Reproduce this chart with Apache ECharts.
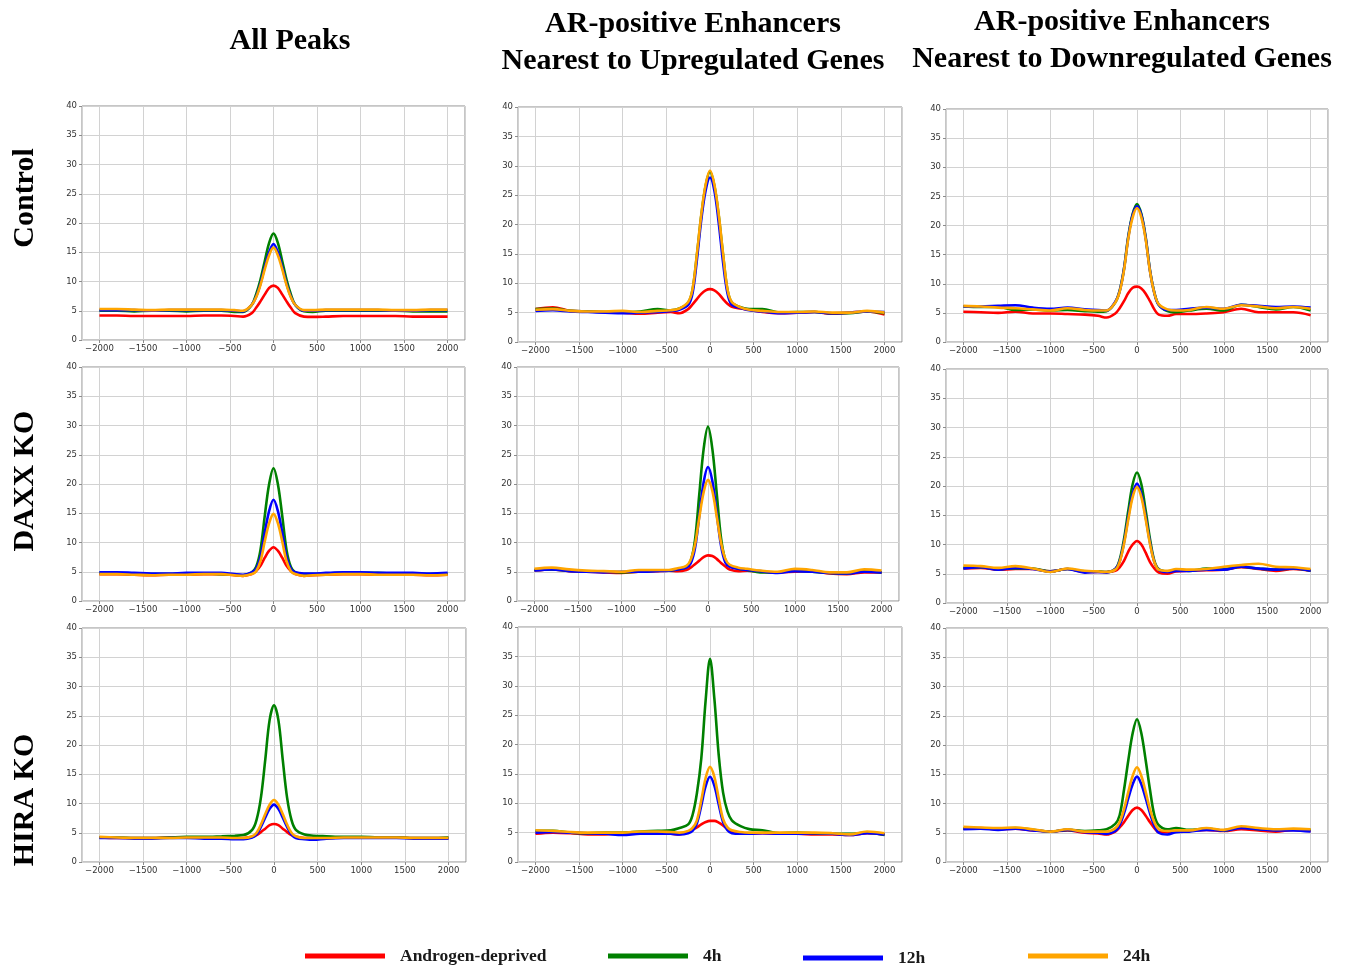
<!DOCTYPE html>
<html>
<head>
<meta charset="utf-8">
<title>AR enhancer signal profiles</title>
<script src="https://cdn.jsdelivr.net/npm/echarts@6.0.0/dist/echarts.min.js"></script>
<style>
  html, body { margin: 0; padding: 0; background: #fff; }
  #main { width: 1347px; height: 965px; }
</style>
</head>
<body>
<div id="main"></div>
<script>
// distance from peak centre (bp), shared by every panel
const positions = [-2000, -1800, -1600, -1400, -1200, -1000, -800, -600, -450, -350, -250, -200, -150, -100, -50, 0,
  50, 100, 150, 200, 250, 350, 450, 600, 800, 1000, 1200, 1400, 1600, 1800, 2000];

const seriesNames = ['Androgen-deprived', '4h', '12h', '24h'];
const seriesColors = ['#ff0000', '#008000', '#0000ff', '#ffa500'];
const columnTitles = ['All Peaks', 'AR-positive Enhancers\nNearest to Upregulated Genes', 'AR-positive Enhancers\nNearest to Downregulated Genes'];
const rowTitles = ['Control', 'DAXX KO', 'HIRA KO'];

// Control - all peaks
const ctrlAll_red = [4.2, 4.2, 4.1, 4.1, 4.1, 4.1, 4.2, 4.2, 4.1, 4.0, 4.6, 5.5, 6.6, 7.8, 8.9, 9.3, 8.9, 7.8, 6.6, 5.5, 4.6, 4.0, 3.95, 4.0, 4.1, 4.1, 4.1, 4.1, 4.0, 4.0, 4.0];
const ctrlAll_4h = [5.0, 5.0, 4.9, 5.0, 5.0, 4.9, 5.0, 5.0, 4.8, 4.8, 6.0, 7.8, 10.3, 13.5, 16.6, 18.2, 16.6, 13.5, 10.3, 7.8, 6.0, 4.9, 4.8, 5.0, 5.0, 5.0, 5.0, 5.0, 4.9, 4.9, 4.9];
const ctrlAll_12h = [5.1, 5.1, 5.1, 5.0, 5.1, 5.1, 5.1, 5.1, 5.0, 4.9, 6.0, 7.4, 9.6, 12.5, 15.0, 16.4, 15.0, 12.5, 9.6, 7.4, 6.0, 5.0, 5.0, 5.1, 5.1, 5.1, 5.1, 5.0, 5.0, 5.1, 5.1];
const ctrlAll_24h = [5.3, 5.3, 5.2, 5.1, 5.2, 5.2, 5.2, 5.2, 5.1, 5.0, 6.0, 7.3, 9.4, 12.1, 14.5, 15.8, 14.5, 12.1, 9.4, 7.3, 6.0, 5.1, 5.1, 5.2, 5.2, 5.2, 5.2, 5.1, 5.1, 5.2, 5.2];

// Control - enhancers near upregulated genes
const ctrlUp_red = [5.6, 5.9, 5.3, 5.2, 5.1, 5.0, 4.8, 5.0, 5.1, 4.9, 5.6, 6.4, 7.3, 8.2, 8.8, 9.0, 8.8, 8.2, 7.3, 6.5, 6.0, 5.7, 5.5, 5.1, 4.9, 5.0, 5.1, 4.8, 5.0, 5.2, 4.7];
const ctrlUp_4h = [5.6, 5.7, 5.3, 5.2, 5.1, 5.1, 5.2, 5.6, 5.4, 5.7, 6.7, 8.9, 14.8, 21.5, 26.6, 29.0, 26.6, 21.5, 14.8, 8.9, 6.7, 5.9, 5.6, 5.6, 5.0, 5.1, 5.1, 4.9, 4.9, 5.2, 4.9];
const ctrlUp_12h = [5.3, 5.4, 5.2, 5.1, 5.0, 4.9, 5.0, 5.1, 5.3, 5.5, 6.3, 8.3, 14.0, 20.8, 25.8, 28.0, 25.8, 20.3, 13.5, 8.3, 6.3, 5.8, 5.4, 5.2, 4.9, 5.0, 5.1, 4.9, 5.0, 5.2, 5.1];
const ctrlUp_24h = [5.5, 5.6, 5.3, 5.2, 5.2, 5.3, 5.1, 5.3, 5.4, 5.7, 6.8, 9.0, 15.0, 21.7, 26.8, 29.2, 26.8, 21.7, 15.0, 9.0, 6.8, 5.9, 5.5, 5.3, 5.1, 5.1, 5.2, 5.0, 5.0, 5.3, 5.0];

// Control - enhancers near downregulated genes
const ctrlDown_red = [5.2, 5.1, 5.0, 5.2, 4.9, 4.9, 4.8, 4.7, 4.5, 4.2, 4.9, 5.8, 7.0, 8.4, 9.3, 9.5, 9.2, 8.3, 7.0, 5.6, 4.7, 4.5, 4.8, 4.8, 4.9, 5.1, 5.7, 5.1, 5.1, 5.1, 4.6];
const ctrlDown_4h = [6.1, 6.0, 6.0, 5.5, 5.6, 5.4, 5.5, 5.3, 5.2, 5.3, 6.8, 8.8, 12.6, 18.2, 22.0, 23.7, 22.0, 18.0, 12.3, 8.5, 6.4, 5.3, 5.1, 5.4, 5.7, 5.4, 6.4, 6.0, 5.6, 6.0, 5.4];
const ctrlDown_12h = [6.1, 6.1, 6.2, 6.3, 5.9, 5.7, 5.9, 5.6, 5.5, 5.4, 6.9, 8.7, 12.5, 18.0, 21.8, 23.3, 21.8, 17.8, 12.2, 8.4, 6.4, 5.5, 5.5, 5.7, 5.9, 5.7, 6.4, 6.2, 6.0, 6.1, 5.9];
const ctrlDown_24h = [6.2, 6.1, 5.9, 5.8, 5.6, 5.4, 5.8, 5.5, 5.4, 5.4, 6.8, 8.6, 12.3, 17.8, 21.4, 23.0, 21.4, 17.6, 12.1, 8.4, 6.5, 5.6, 5.4, 5.5, 6.0, 5.7, 6.3, 6.1, 5.8, 6.0, 5.7];

// DAXX KO - all peaks
const daxxAll_red = [4.6, 4.6, 4.5, 4.4, 4.5, 4.5, 4.6, 4.6, 4.4, 4.3, 4.6, 5.1, 6.0, 7.4, 8.6, 9.2, 8.6, 7.4, 6.0, 5.1, 4.6, 4.3, 4.4, 4.5, 4.6, 4.6, 4.5, 4.5, 4.5, 4.4, 4.5];
const daxxAll_4h = [4.8, 4.7, 4.6, 4.6, 4.6, 4.7, 4.7, 4.6, 4.5, 4.4, 4.9, 5.8, 8.7, 14.6, 20.0, 22.7, 20.0, 14.6, 8.7, 5.8, 4.9, 4.6, 4.6, 4.7, 4.8, 4.8, 4.8, 4.7, 4.7, 4.6, 4.7];
const daxxAll_12h = [4.9, 4.9, 4.8, 4.7, 4.7, 4.8, 4.8, 4.8, 4.6, 4.5, 4.9, 5.5, 7.5, 11.7, 15.4, 17.3, 15.4, 11.7, 7.5, 5.5, 4.9, 4.7, 4.7, 4.8, 4.9, 4.9, 4.8, 4.8, 4.8, 4.7, 4.8];
const daxxAll_24h = [4.6, 4.6, 4.5, 4.4, 4.5, 4.5, 4.6, 4.6, 4.4, 4.3, 4.6, 5.1, 6.8, 10.2, 13.3, 14.9, 13.3, 10.2, 6.8, 5.1, 4.6, 4.3, 4.4, 4.5, 4.6, 4.6, 4.5, 4.5, 4.5, 4.4, 4.5];

// DAXX KO - enhancers near upregulated genes
const daxxUp_red = [5.2, 5.4, 5.1, 5.0, 4.9, 4.8, 5.0, 5.1, 5.2, 5.1, 5.3, 5.7, 6.3, 6.9, 7.5, 7.8, 7.7, 7.2, 6.5, 5.9, 5.4, 5.1, 5.2, 5.0, 4.9, 5.0, 5.1, 4.7, 4.6, 4.9, 4.9];
const daxxUp_4h = [5.3, 5.4, 5.2, 5.0, 5.0, 4.9, 5.0, 5.2, 5.2, 5.4, 5.8, 6.8, 10.4, 18.3, 26.0, 29.8, 26.0, 18.5, 10.8, 7.0, 6.0, 5.5, 5.3, 4.9, 4.9, 5.2, 5.0, 4.8, 4.7, 5.1, 4.9];
const daxxUp_12h = [5.2, 5.4, 5.1, 5.0, 4.9, 5.0, 5.0, 5.1, 5.2, 5.4, 5.7, 6.4, 9.0, 14.6, 20.3, 22.9, 20.5, 15.0, 9.5, 6.6, 5.9, 5.5, 5.3, 5.1, 4.8, 5.1, 5.0, 4.8, 4.7, 5.0, 4.9];
const daxxUp_24h = [5.5, 5.7, 5.4, 5.2, 5.1, 5.0, 5.3, 5.3, 5.3, 5.6, 6.0, 7.0, 9.6, 14.3, 18.6, 20.7, 18.8, 14.5, 10.0, 7.2, 6.2, 5.7, 5.5, 5.2, 5.0, 5.5, 5.3, 4.9, 4.9, 5.4, 5.2];

// DAXX KO - enhancers near downregulated genes
const daxxDown_red = [5.9, 6.0, 5.7, 5.8, 5.8, 5.4, 5.8, 5.3, 5.3, 5.3, 5.5, 6.1, 7.2, 8.8, 10.0, 10.6, 10.0, 8.6, 7.0, 5.9, 5.2, 5.0, 5.4, 5.5, 5.6, 5.7, 6.1, 5.8, 5.5, 5.8, 5.5];
const daxxDown_4h = [6.0, 6.1, 5.8, 5.9, 5.9, 5.4, 5.8, 5.4, 5.4, 5.3, 5.8, 7.4, 10.9, 15.8, 20.3, 22.3, 20.3, 15.8, 10.9, 7.2, 5.8, 5.4, 5.6, 5.5, 5.9, 5.8, 6.2, 5.9, 5.7, 5.9, 5.5];
const daxxDown_12h = [5.9, 6.1, 5.7, 6.0, 5.8, 5.4, 5.8, 5.2, 5.3, 5.2, 5.8, 7.1, 10.3, 14.7, 18.6, 20.4, 18.6, 14.7, 10.3, 7.0, 5.7, 5.3, 5.5, 5.5, 5.7, 5.7, 6.2, 5.9, 5.7, 5.9, 5.5];
const daxxDown_24h = [6.4, 6.3, 6.0, 6.3, 5.9, 5.3, 5.9, 5.5, 5.4, 5.3, 5.7, 7.0, 10.1, 14.3, 18.1, 19.8, 18.1, 14.3, 10.1, 7.0, 5.7, 5.5, 5.8, 5.7, 5.8, 6.2, 6.5, 6.7, 6.2, 6.1, 5.8];

// HIRA KO - all peaks
const hiraAll_red = [4.2, 4.1, 4.1, 4.1, 4.2, 4.2, 4.2, 4.1, 4.1, 4.1, 4.3, 4.6, 5.1, 5.7, 6.3, 6.5, 6.3, 5.7, 5.1, 4.6, 4.3, 4.1, 4.1, 4.1, 4.2, 4.2, 4.2, 4.2, 4.1, 4.1, 4.1];
const hiraAll_4h = [4.2, 4.2, 4.1, 4.1, 4.2, 4.3, 4.3, 4.4, 4.5, 4.6, 5.5, 7.2, 11.0, 17.5, 24.3, 26.8, 24.3, 17.5, 11.0, 7.2, 5.5, 4.7, 4.5, 4.4, 4.3, 4.3, 4.2, 4.2, 4.1, 4.1, 4.2];
const hiraAll_12h = [4.1, 4.1, 4.0, 4.0, 4.1, 4.1, 4.0, 4.0, 3.9, 3.9, 4.2, 4.7, 6.0, 7.6, 9.1, 9.8, 9.1, 7.6, 6.0, 4.7, 4.1, 3.9, 3.8, 4.0, 4.1, 4.1, 4.1, 4.1, 4.0, 4.0, 4.0];
const hiraAll_24h = [4.3, 4.2, 4.1, 4.1, 4.1, 4.2, 4.2, 4.2, 4.1, 4.1, 4.4, 5.0, 6.4, 8.2, 9.8, 10.6, 9.8, 8.2, 6.4, 5.0, 4.4, 4.1, 4.1, 4.1, 4.2, 4.2, 4.2, 4.2, 4.1, 4.1, 4.1];

// HIRA KO - enhancers near upregulated genes
const hiraUp_red = [4.8, 5.0, 4.9, 4.7, 4.7, 4.9, 4.8, 4.8, 4.8, 4.7, 5.1, 5.5, 5.9, 6.4, 6.8, 7.0, 7.0, 6.7, 6.2, 5.6, 5.1, 4.9, 4.8, 4.9, 4.8, 4.8, 4.7, 4.7, 4.6, 4.9, 4.7];
const hiraUp_4h = [5.3, 5.3, 5.0, 4.9, 5.0, 5.0, 5.2, 5.3, 5.4, 5.8, 6.4, 8.0, 11.7, 17.6, 27.5, 34.6, 27.8, 18.2, 11.8, 8.6, 7.1, 6.1, 5.6, 5.4, 4.9, 5.0, 4.9, 4.8, 4.8, 5.0, 4.6];
const hiraUp_12h = [5.0, 5.1, 5.0, 4.9, 4.8, 4.6, 4.8, 4.8, 4.8, 4.7, 4.9, 5.3, 6.6, 9.6, 12.9, 14.5, 13.0, 9.8, 6.8, 5.4, 4.9, 4.8, 4.8, 4.9, 4.8, 4.8, 4.9, 4.8, 4.6, 4.9, 4.7];
const hiraUp_24h = [5.4, 5.3, 5.1, 5.0, 5.0, 5.0, 5.2, 5.2, 5.1, 5.0, 5.3, 5.8, 7.1, 10.5, 14.3, 16.2, 14.5, 10.8, 7.3, 5.9, 5.4, 5.1, 5.0, 5.0, 5.0, 5.0, 5.0, 4.9, 4.7, 5.2, 4.9];

// HIRA KO - enhancers near downregulated genes
const hiraDown_red = [5.7, 5.8, 5.6, 5.7, 5.4, 5.2, 5.4, 5.0, 4.9, 4.7, 5.2, 5.9, 6.8, 7.9, 8.9, 9.3, 8.9, 7.9, 6.8, 5.8, 5.1, 5.1, 5.2, 5.3, 5.5, 5.3, 5.6, 5.4, 5.2, 5.5, 5.3];
const hiraDown_4h = [5.7, 5.7, 5.7, 5.8, 5.5, 5.2, 5.5, 5.3, 5.4, 5.6, 6.5, 8.0, 12.3, 17.4, 22.0, 24.4, 22.0, 17.4, 12.3, 8.0, 6.3, 5.6, 5.8, 5.5, 5.7, 5.4, 5.9, 5.6, 5.5, 5.6, 5.5];
const hiraDown_12h = [5.6, 5.7, 5.5, 5.7, 5.4, 5.2, 5.5, 5.1, 5.0, 4.8, 5.3, 6.3, 8.3, 10.9, 13.3, 14.6, 13.3, 10.9, 8.3, 6.2, 5.0, 4.7, 5.1, 5.2, 5.5, 5.4, 5.8, 5.6, 5.4, 5.4, 5.2];
const hiraDown_24h = [6.0, 5.9, 5.8, 5.9, 5.6, 5.2, 5.6, 5.2, 5.2, 5.2, 5.8, 6.8, 9.0, 12.0, 14.7, 16.2, 14.7, 12.0, 9.0, 6.8, 5.6, 5.3, 5.4, 5.4, 5.8, 5.5, 6.1, 5.8, 5.6, 5.7, 5.6];

// panel boxes in pixels, row by row
const panels = [
  { left: 82, top: 106, width: 383, height: 234, lines: [ctrlAll_red, ctrlAll_4h, ctrlAll_12h, ctrlAll_24h] },
  { left: 518, top: 107, width: 384, height: 235, lines: [ctrlUp_red, ctrlUp_4h, ctrlUp_12h, ctrlUp_24h] },
  { left: 946, top: 109, width: 382, height: 233, lines: [ctrlDown_red, ctrlDown_4h, ctrlDown_12h, ctrlDown_24h] },
  { left: 82, top: 367, width: 383, height: 234, lines: [daxxAll_red, daxxAll_4h, daxxAll_12h, daxxAll_24h] },
  { left: 517, top: 367, width: 382, height: 234, lines: [daxxUp_red, daxxUp_4h, daxxUp_12h, daxxUp_24h] },
  { left: 946, top: 369, width: 382, height: 234, lines: [daxxDown_red, daxxDown_4h, daxxDown_12h, daxxDown_24h] },
  { left: 82, top: 628, width: 384, height: 234, lines: [hiraAll_red, hiraAll_4h, hiraAll_12h, hiraAll_24h] },
  { left: 518, top: 627, width: 384, height: 235, lines: [hiraUp_red, hiraUp_4h, hiraUp_12h, hiraUp_24h] },
  { left: 946, top: 628, width: 382, height: 234, lines: [hiraDown_red, hiraDown_4h, hiraDown_12h, hiraDown_24h] },
];

const titleFont = 'bold 30px "Liberation Serif", "Times New Roman", serif';
const tickFont = { fontFamily: 'DejaVu Sans', fontSize: 8.5, color: '#333' };
const minus = (v) => (v < 0 ? '\u2212' + Math.abs(v) : String(v));

const grids = [], xAxes = [], yAxes = [], series = [];
panels.forEach((p, i) => {
  grids.push({
    left: p.left, top: p.top, width: p.width, height: p.height,
    show: true, borderColor: '#8c8c8c', borderWidth: 1,
    outerBoundsMode: 'none',
  });
  // min/max padded like matplotlib; splitNumber 9 gives ticks every 500
  xAxes.push({
    type: 'value', gridIndex: i, min: -2200, max: 2200, splitNumber: 9,
    axisLine: { show: false, onZero: false },
    axisTick: { show: true, length: 3, lineStyle: { color: '#8c8c8c' } },
    axisLabel: { ...tickFont, margin: 4, showMinLabel: false, showMaxLabel: false, formatter: minus },
    splitLine: { show: true, lineStyle: { color: '#d2d2d2', width: 1 } },
  });
  yAxes.push({
    type: 'value', gridIndex: i, min: 0, max: 40, interval: 5,
    axisLine: { show: false, onZero: false },
    axisTick: { show: true, length: 3, lineStyle: { color: '#8c8c8c' } },
    axisLabel: { ...tickFont, margin: 5 },
    splitLine: { show: true, lineStyle: { color: '#d2d2d2', width: 1 } },
  });
  p.lines.forEach((vals, k) => {
    series.push({
      name: seriesNames[k], type: 'line', xAxisIndex: i, yAxisIndex: i,
      data: positions.map((x, j) => [x, vals[j]]),
      smooth: 0.35, symbol: 'none', silent: true,
      lineStyle: { color: seriesColors[k], width: 2.6 },
      itemStyle: { color: seriesColors[k] },
    });
  });
});

// legend items sit at uneven spacing along the bottom
const legendLeft = [300, 603, 798, 1023];
const legendTop = [942, 942, 944, 942];
const legends = seriesNames.map((name, k) => ({
  data: [name], left: legendLeft[k], top: legendTop[k], padding: 5,
  icon: 'rect', itemWidth: 80, itemHeight: 5, selectedMode: false,
  textStyle: { fontFamily: 'Liberation Serif', fontWeight: 'bold', fontSize: 17.5, color: '#1a1a1a', padding: [0, 0, 0, 10] },
}));

const colCentres = [[290, 41], [693, 43], [1122, 41]];
const rowCentres = [[25, 198], [25, 481], [25, 800]];
const texts = [];
columnTitles.forEach((t, i) => texts.push({
  type: 'text', x: colCentres[i][0], y: colCentres[i][1],
  style: { text: t, font: titleFont, fill: '#000', lineHeight: 37,
    align: 'center', verticalAlign: 'middle', textAlign: 'center', textVerticalAlign: 'middle' },
}));
rowTitles.forEach((t, i) => texts.push({
  type: 'text', x: rowCentres[i][0], y: rowCentres[i][1], rotation: Math.PI / 2,
  style: { text: t, font: titleFont, fill: '#000',
    align: 'center', verticalAlign: 'middle', textAlign: 'center', textVerticalAlign: 'middle' },
}));

const chart = echarts.init(document.getElementById('main'), null, { renderer: 'canvas' });
chart.setOption({
  animation: false,
  backgroundColor: '#fff',
  grid: grids,
  xAxis: xAxes,
  yAxis: yAxes,
  legend: legends,
  graphic: texts,
  series: series,
});
</script>
</body>
</html>
